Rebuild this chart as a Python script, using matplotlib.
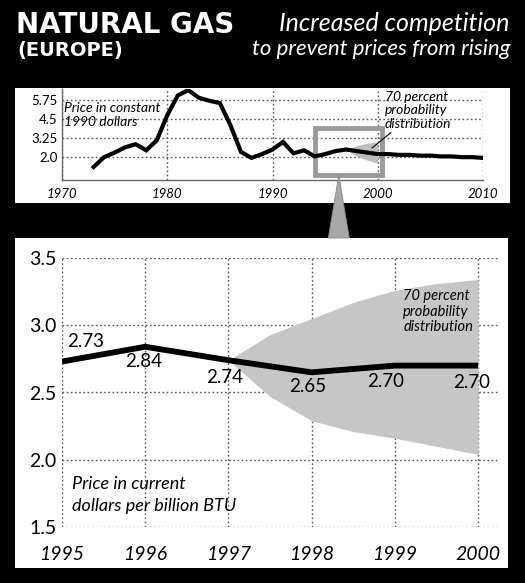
import matplotlib
matplotlib.use("Agg")
import matplotlib.pyplot as plt
from matplotlib.patches import Rectangle, Polygon
import numpy as np

# ---------------- data ----------------
hist_years = list(range(1973, 2011))
hist_values = [1.35, 2.0, 2.3, 2.65, 2.85, 2.45, 3.1, 4.75, 6.05, 6.4,
               5.9, 5.7, 5.55, 4.1, 2.35, 1.95, 2.2, 2.5, 3.0, 2.25,
               2.45, 2.05, 2.2, 2.4, 2.5, 2.4, 2.3, 2.2, 2.2, 2.15,
               2.15, 2.1, 2.1, 2.05, 2.05, 2.0, 2.0, 1.95]
inset_fan_years = [1997, 1998, 1999, 2000]
inset_fan_upper = [2.5, 2.75, 2.92, 3.0]
inset_fan_lower = [2.5, 2.05, 1.8, 1.6]
top_yticks = [2.0, 3.25, 4.5, 5.75]
top_ytick_labels = ["2.0", "3.25", "4.5", "5.75"]
top_xticks = [1970, 1980, 1990, 2000, 2010]
zoom_box = [1994.0, 2000.4, 0.82, 3.9]  # x0, x1, y0, y1

years = [1995, 1996, 1997, 1998, 1999, 2000]
prices = [2.73, 2.84, 2.74, 2.65, 2.70, 2.70]
price_labels = ["2.73", "2.84", "2.74", "2.65", "2.70", "2.70"]
fan_years = [1997, 1997.5, 1998, 1998.5, 1999, 1999.5, 2000]
fan_upper = [2.74, 2.93, 3.05, 3.17, 3.26, 3.31, 3.34]
fan_lower = [2.74, 2.47, 2.29, 2.21, 2.16, 2.10, 2.04]
bottom_yticks = [1.5, 2.0, 2.5, 3.0, 3.5]
bottom_ytick_labels = ["1.5", "2.0", "2.5", "3.0", "3.5"]

FONT = ["Lato", "DejaVu Sans"]
plt.rcParams["font.family"] = FONT

W, H = 525, 583
fig = plt.figure(figsize=(W / 100, H / 100), dpi=100, facecolor="black")

def fx(px):
    return px / W

def fy(py):
    return 1 - py / H

# white panels
fig.patches.append(Rectangle((fx(15), fy(203)), fx(510) - fx(15), fy(88) - fy(203),
                             transform=fig.transFigure, facecolor="white",
                             edgecolor="none", zorder=-2))
fig.patches.append(Rectangle((fx(15), fy(568)), fx(508) - fx(15), fy(238) - fy(568),
                             transform=fig.transFigure, facecolor="white",
                             edgecolor="none", zorder=-2))

# titles
fig.text(fx(16), fy(33), "NATURAL GAS", color="white", fontsize=20,
         fontweight="bold", family=["DejaVu Sans"], ha="left", va="baseline")
fig.text(fx(17), fy(56), "(EUROPE)", color="white", fontsize=14,
         fontweight="bold", family=["DejaVu Sans"], ha="left", va="baseline")
fig.text(fx(509), fy(31), "Increased competition", color="white", fontsize=18,
         fontstyle="italic", ha="right", va="baseline")
fig.text(fx(510), fy(55), "to prevent prices from rising", color="white",
         fontsize=16, fontstyle="italic", ha="right", va="baseline")

GRID_KW = dict(color="#555555", linewidth=1.0, linestyle=(0, (1.2, 1.8)), zorder=1)

# ---------------- top inset ----------------
ax1 = fig.add_axes([fx(62), fy(180), fx(483) - fx(62), fy(88.6) - fy(180)])
ax1.set_facecolor("none")
ax1.set_xlim(1970, 2010)
ax1.set_ylim(0.5, 6.5)
ax1.set_yticks(top_yticks)
ax1.set_yticklabels(top_ytick_labels)
ax1.set_xticks(top_xticks)
ax1.set_xticklabels([str(t) for t in top_xticks], fontstyle="italic")
ax1.tick_params(length=0, labelsize=9.5, labelcolor="black", pad=3)
ax1.tick_params(axis="x", pad=6)
for t in top_xticks:
    ax1.axvline(t, **GRID_KW)
for t in top_yticks:
    ax1.axhline(t, **GRID_KW)
ax1.fill_between(inset_fan_years, inset_fan_lower, inset_fan_upper,
                 color="#bdbdbd", linewidth=0, zorder=2)
ax1.plot(hist_years, hist_values, color="black", lw=3, zorder=4,
         solid_joinstyle="miter")
bx0, bx1, by0, by1 = zoom_box
ax1.add_patch(Rectangle((bx0, by0), bx1 - bx0, by1 - by0, fill=False,
                        edgecolor="#9a9a9a", lw=3.5, zorder=3))
for s in ["top", "right"]:
    ax1.spines[s].set_visible(False)
for s in ["left", "bottom"]:
    ax1.spines[s].set_color("#666666")
    ax1.spines[s].set_linewidth(1.0)
ax1.text(1970.2, 5.6, "Price in constant\n1990 dollars", fontsize=10,
         fontstyle="italic", ha="left", va="top", linespacing=1.2, zorder=5)
ax1.annotate("70 percent\nprobability\ndistribution", xy=(1999.45, 2.6),
             xytext=(2000.7, 3.8), fontsize=10, fontstyle="italic",
             ha="left", va="bottom", linespacing=1.15,
             arrowprops=dict(arrowstyle="-", color="black", lw=0.8,
                             shrinkA=0, shrinkB=0))

# ---------------- bottom chart ----------------
ax2 = fig.add_axes([fx(62), fy(527), fx(498) - fx(62), fy(258) - fy(527)])
ax2.set_facecolor("none")
ax2.set_xlim(1995, 2000.24)
ax2.set_ylim(1.5, 3.5)
ax2.set_xticks(years)
ax2.set_xticklabels([str(y) for y in years], fontstyle="italic")
ax2.set_yticks(bottom_yticks)
ax2.set_yticklabels(bottom_ytick_labels)
ax2.tick_params(length=0, labelsize=14, labelcolor="black")
ax2.tick_params(axis="y", pad=4)
ax2.tick_params(axis="x", pad=14)
for t in years:
    ax2.axvline(t, **GRID_KW)
for t in bottom_yticks:
    ax2.axhline(t, **GRID_KW)
ax2.fill_between(fan_years, fan_lower, fan_upper, color="#c6c6c6",
                 linewidth=0, zorder=2)
ax2.plot(years, prices, color="black", lw=4.2, zorder=4,
         solid_joinstyle="miter", solid_capstyle="butt")
for s in ax2.spines.values():
    s.set_visible(False)

label_offsets = [(24, 20), (-2, -15), (-4, -17), (-4, -14), (-9, -16), (-6, -17)]
for x, y, lab, off in zip(years, prices, price_labels, label_offsets):
    ax2.annotate(lab, (x, y), xytext=(off[0] * 0.72, off[1] * 0.72),
                 textcoords="offset points", ha="center", va="center",
                 fontsize=13.5, zorder=6)

ax2.text(1999.1, 3.27, "70 percent\nprobability\ndistribution", fontsize=10.5,
         fontstyle="italic", ha="left", va="top", linespacing=1.15, zorder=5)
ax2.text(1995.12, 1.88, "Price in current\ndollars per billion BTU", fontsize=13,
         fontstyle="italic", ha="left", va="top", linespacing=1.45, zorder=5)

# ---------------- pointer triangle (from zoom box to bottom chart) ----------------
inv = fig.transFigure.inverted()
apex = inv.transform(ax1.transData.transform(((bx0 + bx1) / 2 - 0.9, by0)))
base_y = inv.transform(ax2.transAxes.transform((0, 1)))[1] + 20 / H
half = 10.5 / W
tri = Polygon([apex, (apex[0] - half, base_y), (apex[0] + half, base_y)],
              closed=True, transform=fig.transFigure, facecolor="#a8a8a8",
              edgecolor="#888888", lw=0.6, zorder=1)
fig.patches.append(tri)

fig.savefig("out.png", dpi=100, facecolor="black")
